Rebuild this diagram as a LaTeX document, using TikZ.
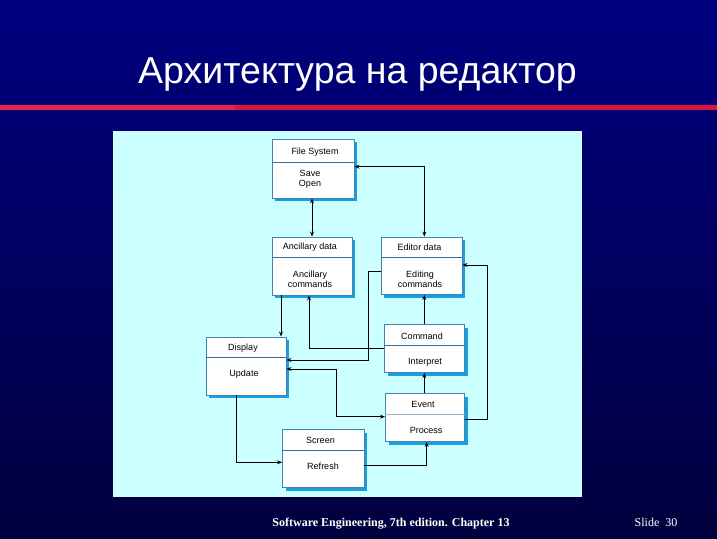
\documentclass[tikz,border=0pt]{standalone}
\usepackage{fontspec}
\setmainfont{Liberation Serif}
\newfontfamily\arialf{Liberation Sans}
\usetikzlibrary{arrows.meta,shadows}
\definecolor{bgtop}{RGB}{0,0,128}
\definecolor{bgbot}{RGB}{0,0,62}
\definecolor{redline}{RGB}{222,20,62}
\definecolor{redlineL}{RGB}{232,36,80}
\definecolor{panel}{RGB}{204,255,255}
\definecolor{boxline}{RGB}{70,130,175}
\definecolor{shadowc}{RGB}{20,160,225}
\definecolor{divc}{RGB}{60,105,150}
\definecolor{divlight}{RGB}{150,185,205}
\tikzset{
  umlbox/.style={draw=boxline, line width=0.9pt, fill=white, inner sep=0pt,
    drop shadow={shadow xshift=3pt, shadow yshift=-3pt, fill=shadowc, opacity=1}},
  divider/.style={draw=divc, line width=0.9pt},
  lbl/.style={font=\arialf\fontsize{9}{10}\selectfont, align=center, inner sep=0pt},
  conn/.style={draw=black, line width=0.8pt},
  tip/.style={-{Stealth[length=5pt,width=4pt]}},
  tips/.style={{Stealth[length=5pt,width=4pt]}-{Stealth[length=5pt,width=4pt]}}
}
\begin{document}
\begin{tikzpicture}[x=1pt,y=-1pt]
\useasboundingbox (0,0) rectangle (717,538);
\shade[top color=bgtop, bottom color=bgbot] (0,0) rectangle (717,538);
% title
\node[font=\arialf\fontsize{37.5}{40}\selectfont, text=white, anchor=base, inner sep=0pt] (title) at (357.5,83) {Архитектура на редактор};
\fill[redlineL] (0,105) rectangle (235,109.5);
\fill[redline] (235,105) rectangle (717,109.5);
% panel
\fill[panel] (113,131) rectangle (582,497);
% boxes
\node[umlbox, minimum width=82, minimum height=59] (fs) at (313,168.5) {};
\node[umlbox, minimum width=80, minimum height=58] (ad) at (312,266) {};
\node[umlbox, minimum width=81, minimum height=57.5] (ed) at (421.5,265.75) {};
\node[umlbox, minimum width=80, minimum height=58] (disp) at (246,366) {};
\node[umlbox, minimum width=81.5, minimum height=58] (scr) at (323.25,458.5) {};
\node[umlbox, minimum width=80, minimum height=48] (cmd) at (424.5,348.5) {};
\node[umlbox, minimum width=79, minimum height=48] (ev) at (425,417.5) {};
% dividers
\draw[divider] (fs.west |- 0,162) -- (fs.east |- 0,162);
\draw[divider] (ad.west |- 0,257) -- (ad.east |- 0,257);
\draw[divider] (ed.west |- 0,257) -- (ed.east |- 0,257);
\draw[divider] (disp.west |- 0,357) -- (disp.east |- 0,357);
\draw[divider] (scr.west |- 0,450) -- (scr.east |- 0,450);
\draw[divider] (cmd.west |- 0,345) -- (cmd.east |- 0,345);
\draw[divider, draw=divlight] (ev.west |- 0,414.5) -- (ev.east |- 0,414.5);
% labels
\node[lbl] (fst) at (315,152.5) {File System};
\node[lbl] (fsb) at (310,179.5) {Save\\Open};
\node[lbl] (adt) at (310,247.5) {Ancillary data};
\node[lbl] (adb) at (310,279) {Ancillary\\commands};
\node[lbl] (edt) at (419.5,247.5) {Editor data};
\node[lbl] (edb) at (420,279) {Editing\\commands};
\node[lbl] (dispt) at (243,348) {Display};
\node[lbl] (dispb) at (244,374) {Update};
\node[lbl] (scrt) at (320.5,440) {Screen};
\node[lbl] (scrb) at (323,466) {Refresh};
\node[lbl] (cmdt) at (422,336) {Command};
\node[lbl] (cmdb) at (425,362.5) {Interpret};
\node[lbl] (evt) at (423,404.5) {Event};
\node[lbl] (evb) at (426,430) {Process};
% connectors
\draw[conn, tips] (312,0 |- fs.south) -- (312,0 |- ad.north);
\draw[conn, tips] (fs.east |- 0,166.7) -| (424.3,0 |- ed.north);
\draw[conn, tip] (281,0 |- ad.south) -- (281,0 |- disp.north);
\draw[conn, tip] (cmd.west |- 0,348.3) -| (309,0 |- ad.south);
\draw[conn, tip] (ed.west |- 0,271.7) -| (368.3,360) -- (disp.east |- 0,360);
\draw[conn, tips] (disp.east |- 0,369) -| (336,416.7) -- (ev.west |- 0,416.7);
\draw[conn, tip] (ev.east |- 0,419) -| (487,265) -- (ed.east |- 0,265);
\draw[conn, tip] (424.3,0 |- ev.north) -- (424.3,0 |- cmd.south);
\draw[conn, tip] (424.3,0 |- cmd.north) -- (424.3,0 |- ed.south);
\draw[conn, tip] (236.7,0 |- disp.south) |- (scr.west |- 0,462.3);
\draw[conn, tip] (scr.east |- 0,465.7) -| (426.7,0 |- ev.south);
% footer
\node[font=\bfseries\fontsize{12}{14}\selectfont, text=white, anchor=base, inner sep=0pt] (foot) at (391,526) {Software Engineering, 7th edition. Chapter 13};
\node[font=\fontsize{12}{14}\selectfont, text=white, anchor=base, inner sep=0pt] (slide) at (656,526) {Slide\ \ 30};
\end{tikzpicture}
\end{document}
